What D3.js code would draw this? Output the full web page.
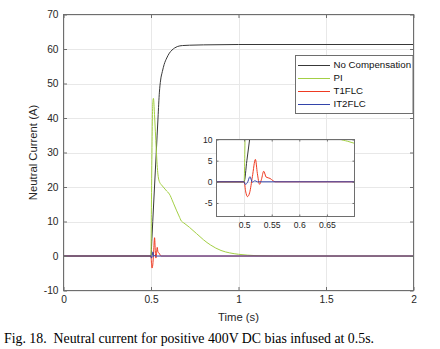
<!DOCTYPE html>
<html>
<head>
<meta charset="utf-8">
<script src="https://cdn.jsdelivr.net/npm/d3@7"></script>
<style>
  html, body { margin: 0; padding: 0; background: #fff; }
  svg { display: block; }
</style>
</head>
<body>
<script>
// ---------------- DATA ----------------
const seriesNames = ["No Compensation", "PI", "T1FLC", "IT2FLC"];

const noCompTime = [0, 0.5, 0.505, 0.51, 0.52, 0.53, 0.54, 0.548, 0.555, 0.565, 0.575, 0.59, 0.605, 0.62, 0.635, 0.65, 0.68, 0.72, 0.8, 1.0, 2.0];
const noCompVal  = [0, 0, 5, 10, 20, 30, 40, 47.5, 51, 53.5, 55.5, 57.4, 58.8, 59.7, 60.3, 60.7, 61.0, 61.1, 61.2, 61.3, 61.3];

const piTime = [0, 0.5, 0.502, 0.505, 0.508, 0.511, 0.514, 0.517, 0.52, 0.525, 0.53, 0.535, 0.54, 0.545, 0.55, 0.56, 0.57, 0.58, 0.59, 0.6, 0.61, 0.62, 0.63, 0.645, 0.66, 0.674, 0.687, 0.7, 0.72, 0.74, 0.76, 0.78, 0.8, 0.82, 0.84, 0.87, 0.9, 0.95, 1.0, 1.05, 1.1, 1.2, 2.0];
const piVal  = [0, 0, 12, 28, 40, 45, 45.7, 44, 41, 36, 31, 26.5, 23.5, 22, 21.3, 20.6, 20, 19.4, 18.8, 18.3, 17.5, 16.3, 15.1, 13.3, 11.6, 10.1, 9.6, 9.1, 8.3, 7.4, 6.5, 5.6, 4.7, 3.9, 3.2, 2.3, 1.6, 0.9, 0.5, 0.25, 0.1, 0, 0];

const t1Time = [0, 0.5, 0.503, 0.506, 0.51, 0.515, 0.5205, 0.524, 0.528, 0.5315, 0.5355, 0.54, 0.547, 0.552, 0.556, 2.0];
const t1Val  = [0, 0, -2.4, -3.5, -2.6, 1.2, 5.3, 2.0, -0.6, 0.6, 2.5, 1.1, 0.8, 0.3, 0, 0];

const it2Time = [0, 0.5, 0.502, 0.506, 0.5106, 0.515, 0.5195, 0.524, 2.0];
const it2Val  = [0, 0, -0.6, -0.2, 1.2, -0.1, 0.25, 0, 0];

const xTicks = [0, 0.5, 1, 1.5, 2];
const xTickLabels = ["0", "0.5", "1", "1.5", "2"];
const yTicks = [-10, 0, 10, 20, 30, 40, 50, 60, 70];
const yTickLabels = ["-10", "0", "10", "20", "30", "40", "50", "60", "70"];

const insetXTicks = [0.5, 0.55, 0.6, 0.65];
const insetXTickLabels = ["0.5", "0.55", "0.6", "0.65"];
const insetYTicks = [-5, 0, 5, 10];
const insetYTickLabels = ["-5", "0", "5", "10"];

const xLabel = "Time (s)";
const yLabel = "Neutral Current (A)";
const caption = "Fig. 18.  Neutral current for positive 400V DC bias infused at 0.5s.";

// ---------------- STYLE ----------------
const colors = ["#383838", "#a3cf45", "#ee3a22", "#3344aa"];
const W = 440, H = 349;
const sansFont = "'Liberation Sans', Arial, Helvetica, sans-serif";
const serifFont = "'Liberation Serif', 'Times New Roman', serif";
const axisColor = "#6e6e6e";
const gridColor = "#e8e8e8";

const svg = d3.select("body").append("svg").attr("width", W).attr("height", H);

const series = [
  { name: seriesNames[0], t: noCompTime, v: noCompVal, color: colors[0] },
  { name: seriesNames[1], t: piTime, v: piVal, color: colors[1] },
  { name: seriesNames[2], t: t1Time, v: t1Val, color: colors[2] },
  { name: seriesNames[3], t: it2Time, v: it2Val, color: colors[3] }
];

function drawPanel(g, x, y, xt, xtl, yt, ytl, fontSize, id, tickLen, labelGapX, labelGapY) {
  const [x0, x1] = x.range();
  const [y0, y1] = y.range(); // y0 bottom, y1 top
  g.append("rect").attr("x", x0).attr("y", y1).attr("width", x1 - x0).attr("height", y0 - y1)
    .attr("fill", "#fff");
  // grid
  g.append("g").selectAll("line").data(xt).join("line")
    .attr("x1", d => Math.round(x(d)) + 0.5).attr("x2", d => Math.round(x(d)) + 0.5)
    .attr("y1", y1).attr("y2", y0).attr("stroke", gridColor).attr("stroke-width", 1);
  g.append("g").selectAll("line").data(yt).join("line")
    .attr("y1", d => Math.round(y(d)) + 0.5).attr("y2", d => Math.round(y(d)) + 0.5)
    .attr("x1", x0).attr("x2", x1).attr("stroke", gridColor).attr("stroke-width", 1);

  // clip
  g.append("clipPath").attr("id", id).append("rect")
    .attr("x", x0).attr("y", y1).attr("width", x1 - x0).attr("height", y0 - y1);
  const line = d3.line().x(d => x(d[0])).y(d => y(d[1])).curve(d3.curveMonotoneX);
  const lg = g.append("g").attr("clip-path", `url(#${id})`);
  series.forEach(s => {
    const pts = s.t.map((t, i) => [t, s.v[i]]);
    lg.append("path").attr("d", line(pts)).attr("fill", "none")
      .attr("stroke", s.color).attr("stroke-width", 1);
  });

  // axes (ticks inward)
  const axB = d3.axisBottom(x).tickValues(xt).tickFormat((d, i) => xtl[i]).tickSizeInner(-tickLen).tickSizeOuter(0).tickPadding(labelGapX);
  const axT = d3.axisTop(x).tickValues(xt).tickFormat("").tickSizeInner(-tickLen).tickSizeOuter(0);
  const axL = d3.axisLeft(y).tickValues(yt).tickFormat((d, i) => ytl[i]).tickSizeInner(-tickLen).tickSizeOuter(0).tickPadding(labelGapY);
  const axR = d3.axisRight(y).tickValues(yt).tickFormat("").tickSizeInner(-tickLen).tickSizeOuter(0);
  const gb = g.append("g").attr("transform", `translate(0,${y0})`).call(axB);
  const gt = g.append("g").attr("transform", `translate(0,${y1})`).call(axT);
  const gl = g.append("g").attr("transform", `translate(${x0},0)`).call(axL);
  const gr = g.append("g").attr("transform", `translate(${x1},0)`).call(axR);
  [gb, gt, gl, gr].forEach(a => {
    a.select(".domain").remove();
    a.selectAll("line").attr("stroke", axisColor);
    a.selectAll("text").attr("fill", "#262626").style("font-family", sansFont).style("font-size", fontSize + "px");
  });
  g.append("rect").attr("x", x0).attr("y", y1).attr("width", x1 - x0).attr("height", y0 - y1)
    .attr("fill", "none").attr("stroke", axisColor).attr("stroke-width", 1);
}

// ---------------- MAIN ----------------
const x = d3.scaleLinear().domain([0, 2]).range([63.5, 413.5]);
const y = d3.scaleLinear().domain([-10, 70]).range([290.5, 14.5]);
const mainG = svg.append("g");
drawPanel(mainG, x, y, xTicks, xTickLabels, yTicks, yTickLabels, 10.2, "clipMain", 3.5, 5, 5);

// axis labels
svg.append("text").attr("x", 238.5).attr("y", 321).attr("text-anchor", "middle")
  .style("font-family", sansFont).style("font-size", "11.3px").attr("fill", "#262626").text(xLabel);
svg.append("text").attr("transform", "translate(37,152.5) rotate(-90)").attr("text-anchor", "middle")
  .style("font-family", sansFont).style("font-size", "11.3px").attr("fill", "#262626").text(yLabel);

// ---------------- LEGEND ----------------
const leg = svg.append("g");
leg.append("rect").attr("x", 295.5).attr("y", 55.5).attr("width", 117.5).attr("height", 58)
  .attr("fill", "#fff").attr("stroke", axisColor).attr("stroke-width", 1);
series.forEach((s, i) => {
  const yy = 65 + i * 13;
  leg.append("line").attr("x1", 298).attr("x2", 330).attr("y1", yy + 0.5).attr("y2", yy + 0.5)
    .attr("stroke", s.color).attr("stroke-width", 1);
  leg.append("text").attr("x", 333.5).attr("y", yy).attr("dy", "0.35em")
    .style("font-family", sansFont).style("font-size", "9.7px").attr("fill", "#111").text(s.name);
});

// ---------------- INSET ----------------
const xi = d3.scaleLinear().domain([0.45, 0.7]).range([216.5, 354.5]);
const yi = d3.scaleLinear().domain([-8.2, 10]).range([216.5, 139.5]);
const insetG = svg.append("g");
drawPanel(insetG, xi, yi, insetXTicks, insetXTickLabels, insetYTicks, insetYTickLabels, 8.6, "clipInset", 2, 5, 4);

// ---------------- CAPTION ----------------
const cap = svg.append("text").attr("x", 4).attr("y", 343)
  .style("font-family", serifFont).style("font-size", "13px").style("white-space", "pre")
  .attr("fill", "#000").text(caption);
const cw = cap.node().getComputedTextLength();
if (cw > 0) cap.style("font-size", (13 * 370 / cw).toFixed(2) + "px");
</script>
</body>
</html>
